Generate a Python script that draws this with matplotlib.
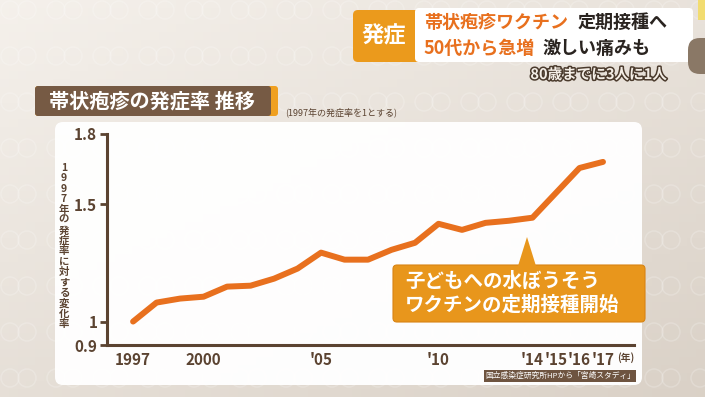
import numpy as np
import matplotlib
matplotlib.use("Agg")
import matplotlib.pyplot as plt
from matplotlib.patches import FancyBboxPatch, Polygon, Rectangle
import matplotlib.patheffects as pe

plt.rcParams['font.family'] = ['Noto Sans CJK JP', 'DejaVu Sans']

# data (1997 = 1)
years = [1997, 1998, 1999, 2000, 2001, 2002, 2003, 2004, 2005, 2006, 2007,
         2008, 2009, 2010, 2011, 2012, 2013, 2014, 2015, 2016, 2017]
rate = [1.000, 1.081, 1.098, 1.106, 1.149, 1.153, 1.183, 1.226, 1.294, 1.264, 1.264,
        1.306, 1.336, 1.417, 1.391, 1.421, 1.430, 1.443, 1.549, 1.655, 1.681]
xtick_pos = [1997, 2000, 2005, 2010, 2014, 2015, 2016, 2017]
xtick_lab = ["1997", "2000", "'05", "'10", "'14", "'15", "'16", "'17"]
ytick_pos = [0.9, 1.0, 1.5, 1.8]
ytick_lab = ["0.9", "1", "1.5", "1.8"]

brown = "#5b4331"
orange = "#e8701e"
W, H = 705, 397

fig = plt.figure(figsize=(W / 100, H / 100), dpi=100)

# background layer in pixel coordinates
bg = fig.add_axes([0, 0, 1, 1])
bg.set_xlim(0, W)
bg.set_ylim(H, 0)
bg.axis("off")
gx, gy = np.meshgrid(np.linspace(0, 1, 80), np.linspace(0, 1, 50))
grad = 0.55 * gy + 0.45 * gx
c0 = np.array([0.960, 0.943, 0.922])
c1 = np.array([0.855, 0.820, 0.780])
img = c0 + (c1 - c0) * grad[..., None]
bg.imshow(img, extent=[0, W, H, 0], aspect="auto", zorder=0)

# faint ring pattern
for yy in range(10, H, 46):
    for xx in range(10, W, 46):
        bg.add_patch(plt.Circle((xx, yy), 9, fill=False, ec="white", lw=1.1, alpha=0.2, zorder=1))
        bg.add_patch(plt.Circle((xx + 17, yy), 9, fill=False, ec="white", lw=1.1, alpha=0.2, zorder=1))

# white panel
bg.add_patch(FancyBboxPatch((55, 122), 587, 263, boxstyle="round,pad=0,rounding_size=8",
                            fc="white", ec="none", alpha=0.97, zorder=2))

# title box
bg.add_patch(FancyBboxPatch((35, 86), 243, 30, boxstyle="round,pad=0,rounding_size=3",
                            fc="#f0a020", ec="none", zorder=3))
bg.add_patch(FancyBboxPatch((35, 86), 236, 30, boxstyle="round,pad=0,rounding_size=3",
                            fc="#765a44", ec="none", zorder=3))
bg.text(152, 101, "帯状疱疹の発症率 推移", color="white", fontsize=14.5, fontweight="bold",
        ha="center", va="center", zorder=4)
bg.text(285, 112, "(1997年の発症率を1とする)", color=brown, fontsize=6.5,
        ha="left", va="center", zorder=4)

# top-right caption
bg.add_patch(FancyBboxPatch((353, 10), 70, 52, boxstyle="round,pad=0,rounding_size=5",
                            fc="#eb9a1c", ec="none", zorder=3))
bg.add_patch(FancyBboxPatch((415, 8), 278, 54, boxstyle="round,pad=0,rounding_size=4",
                            fc="white", ec="none", zorder=3))
bg.text(384, 36, "発症", color="white", fontsize=16, fontweight="bold", ha="center", va="center", zorder=4)
bg.text(424, 22, "帯状疱疹ワクチン", color=orange, fontsize=13, fontweight="bold", ha="left", va="center", zorder=4)
bg.text(578, 22, "定期接種へ", color="#2a2420", fontsize=13, fontweight="bold", ha="left", va="center", zorder=4)
bg.text(424, 48, "50代から急増", color=orange, fontsize=13, fontweight="bold", ha="left", va="center", zorder=4)
bg.text(542, 48, "激しい痛みも", color="#2a2420", fontsize=13, fontweight="bold", ha="left", va="center", zorder=4)
bg.text(667, 74, "80歳までに3人に1人", color="#f4eee6", fontsize=10.5, fontweight="bold",
        ha="right", va="center", zorder=4,
        path_effects=[pe.withStroke(linewidth=2.2, foreground="#4a3a2c")])

# wood piece on the right edge
bg.add_patch(FancyBboxPatch((688, 38), 40, 36, boxstyle="round,pad=0,rounding_size=12",
                            fc="#8a7866", ec="none", zorder=3))
bg.add_patch(Rectangle((698, 0), 10, 20, fc="#f2dc70", ec="none", zorder=3))

# vertical y label, one character at a time
ylab = "1997年の発症率に対する変化率"
for i, ch in enumerate(ylab):
    bg.text(64, 168 + i * 10.4, ch, color=brown, fontsize=7.5, fontweight="bold",
            ha="center", va="center", zorder=4)

# year mark and source
bg.text(626, 358, "(年)", color=brown, fontsize=7, fontweight="bold", ha="center", va="center", zorder=4)
bg.add_patch(Rectangle((484, 370), 152, 12, fc="#6e5440", ec="none", zorder=3))
bg.text(560, 376, "国立感染症研究所HPから「宮崎スタディ」", color="white", fontsize=5.6,
        ha="center", va="center", zorder=4)

# chart axes
ax = fig.add_axes([107 / W, 1 - 345 / H, (634 - 107) / W, (345 - 134) / H])
ax.patch.set_alpha(0)
ax.plot(years, rate, color=orange, lw=4.3, solid_capstyle="round", solid_joinstyle="round", zorder=3)
ax.set_xlim(1995.89, 2018.32)
ax.set_ylim(0.9, 1.8)
for s in ["top", "right"]:
    ax.spines[s].set_visible(False)
for s in ["left", "bottom"]:
    ax.spines[s].set_color(brown)
    ax.spines[s].set_linewidth(2.2)
ax.set_yticks(ytick_pos)
ax.set_yticklabels(ytick_lab)
ax.set_xticks(xtick_pos)
ax.set_xticklabels(xtick_lab)
ax.tick_params(axis="y", colors=brown, length=5, width=2, pad=2, labelsize=11)
ax.tick_params(axis="x", colors=brown, length=0, pad=5)
for lab in ax.get_yticklabels():
    lab.set_fontweight("bold")
    lab.set_color(brown)
for lab in ax.get_xticklabels():
    lab.set_fontweight("bold")
    lab.set_color(brown)
    lab.set_fontsize(11)

# callout over the chart
ov = fig.add_axes([0, 0, 1, 1])
ov.set_xlim(0, W)
ov.set_ylim(H, 0)
ov.axis("off")
ov.add_patch(FancyBboxPatch((393, 265), 252, 57, boxstyle="round,pad=0,rounding_size=4",
                            fc="#e8961c", ec="#d88414", lw=0.8, zorder=5))
ov.add_patch(Polygon([(518, 266), (536, 266), (527, 237)], closed=True,
                     fc="#e8961c", ec="none", zorder=5))
ov.text(405, 281, "子どもへの水ぼうそう", color="white", fontsize=14, fontweight="bold",
        ha="left", va="center", zorder=6)
ov.text(405, 305, "ワクチンの定期接種開始", color="white", fontsize=14, fontweight="bold",
        ha="left", va="center", zorder=6)

fig.savefig("out.png", dpi=100)
